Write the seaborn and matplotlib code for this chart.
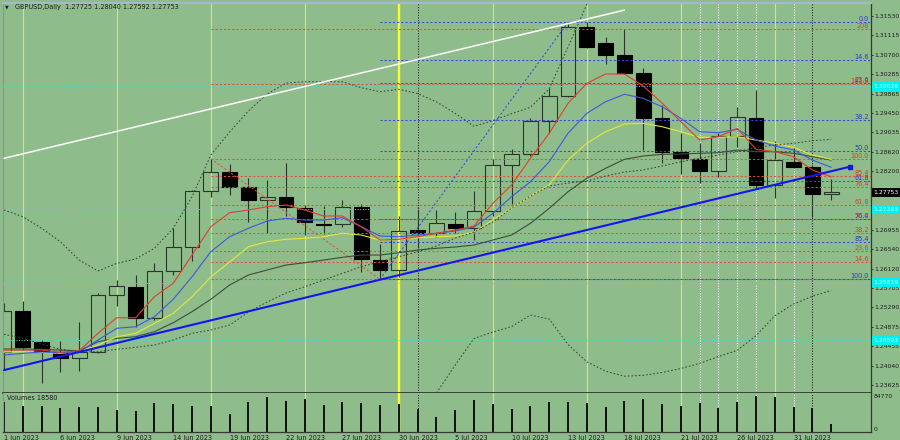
import numpy as np
import pandas as pd
import matplotlib
matplotlib.use('Agg')
import matplotlib.pyplot as plt
import matplotlib.transforms as mtransforms
from matplotlib.patches import Rectangle
import seaborn as sns

# trading days shown on the chart
dates = pd.bdate_range('2023-06-01', '2023-08-02')

opens = [1.24330, 1.25207, 1.24544, 1.24330, 1.24202, 1.24330, 1.25549, 1.25733, 1.25057, 1.26076,
         1.26589, 1.27780, 1.28187, 1.27866, 1.27594, 1.27646, 1.27423, 1.27085, 1.27074, 1.27432,
         1.26304, 1.26090, 1.26946, 1.26888, 1.27081, 1.26995, 1.27352, 1.28336, 1.28565, 1.29278,
         1.29819, 1.31295, 1.30952, 1.30689, 1.30298, 1.29342, 1.28621, 1.28465, 1.28215, 1.28957,
         1.29348, 1.27909, 1.28407, 1.28300, 1.27725]
highs = [1.25378, 1.25421, 1.24593, 1.24565, 1.24985, 1.25592, 1.25877, 1.25984, 1.26234, 1.26982,
         1.27802, 1.28458, 1.28358, 1.28052, 1.28009, 1.28386, 1.27481, 1.27466, 1.27588, 1.27502,
         1.26647, 1.27246, 1.27445, 1.27374, 1.27325, 1.27787, 1.28458, 1.28672, 1.29335, 1.29977,
         1.31346, 1.31402, 1.31068, 1.31239, 1.30405, 1.29620, 1.29015, 1.28813, 1.29015, 1.29571,
         1.29941, 1.28856, 1.28715, 1.28337, 1.28040]
lows = [1.23951, 1.24379, 1.23667, 1.23902, 1.23937, 1.24309, 1.25327, 1.24865, 1.25021, 1.25984,
        1.26289, 1.27658, 1.27688, 1.27124, 1.26888, 1.27246, 1.26839, 1.26854, 1.27017, 1.26054,
        1.25913, 1.25947, 1.26555, 1.26803, 1.26876, 1.26732, 1.27246, 1.27502, 1.28535, 1.29015,
        1.29797, 1.30839, 1.30490, 1.30283, 1.28657, 1.28386, 1.28138, 1.27958, 1.28086, 1.28728,
        1.27817, 1.27624, 1.28266, 1.27231, 1.27592]
closes = [1.25220, 1.24450, 1.24337, 1.24202, 1.24330, 1.25556, 1.25748, 1.25064, 1.26069, 1.26589,
          1.27787, 1.28193, 1.27872, 1.27594, 1.27652, 1.27432, 1.27117, 1.27064, 1.27432, 1.26319,
          1.26090, 1.26931, 1.26888, 1.27089, 1.26989, 1.27352, 1.28336, 1.28565, 1.29278, 1.29819,
          1.31295, 1.30867, 1.30689, 1.30298, 1.29342, 1.28625, 1.28493, 1.28215, 1.28963, 1.29357,
          1.27909, 1.28443, 1.28300, 1.27716, 1.27753]
volumes = [70900, 60880, 60880, 56250, 58570, 58570, 51630, 49320, 67810, 65500,
           60110, 60880, 42380, 69350, 82450, 73210, 77060, 63190, 69350, 67040,
           63190, 65500, 53940, 34680, 52400, 74750, 65500, 54710, 60110, 70120,
           70120, 68580, 57800, 73210, 77060, 65500, 60880, 67040, 57020, 69350,
           84770, 82450, 57800, 56250, 18580]

# indicator lines
ma_red = [1.24379, 1.24379, 1.24379, 1.24330, 1.24364, 1.24737, 1.25070, 1.25070, 1.25519, 1.25806,
          1.26411, 1.27017, 1.27316, 1.27374, 1.27445, 1.27481, 1.27374, 1.27246, 1.27246, 1.27017,
          1.26732, 1.26747, 1.26803, 1.26876, 1.26946, 1.27032, 1.27517, 1.27909, 1.28480, 1.29015,
          1.29656, 1.30084, 1.30283, 1.30283, 1.30026, 1.29663, 1.29263, 1.28871, 1.28942, 1.29122,
          1.28672, 1.28621, 1.28514, 1.28230, 1.28086]
ma_blue = [1.24272, 1.24309, 1.24337, 1.24322, 1.24337, 1.24593, 1.24844, 1.24878, 1.25092, 1.25464,
           1.25947, 1.26482, 1.26803, 1.26983, 1.27139, 1.27196, 1.27160, 1.27160, 1.27209, 1.27017,
           1.26818, 1.26803, 1.26839, 1.26876, 1.26925, 1.27010, 1.27303, 1.27658, 1.27979, 1.28407,
           1.29015, 1.29442, 1.29690, 1.29849, 1.29763, 1.29584, 1.29335, 1.29049, 1.29027, 1.29100,
           1.28871, 1.28743, 1.28657, 1.28443, 1.28287]
ma_yellow = [1.24337, 1.24343, 1.24326, 1.24309, 1.24343, 1.24486, 1.24664, 1.24737, 1.24950, 1.25164,
             1.25519, 1.25941, 1.26262, 1.26589, 1.26696, 1.26747, 1.26769, 1.26803, 1.26876, 1.26839,
             1.26732, 1.26747, 1.26781, 1.26803, 1.26818, 1.26903, 1.27160, 1.27417, 1.27673, 1.27909,
             1.28443, 1.28801, 1.29049, 1.29213, 1.29228, 1.29156, 1.29049, 1.28929, 1.28929, 1.28942,
             1.28871, 1.28801, 1.28715, 1.28550, 1.28458]
ma_slow = [1.24401, 1.24401, 1.24394, 1.24379, 1.24364, 1.24557, 1.24630, 1.24664, 1.24771, 1.24963,
           1.25199, 1.25464, 1.25770, 1.25984, 1.26091, 1.26197, 1.26247, 1.26304, 1.26362, 1.26411,
           1.26411, 1.26461, 1.26518, 1.26555, 1.26583, 1.26625, 1.26732, 1.26839, 1.27089, 1.27410,
           1.27765, 1.28052, 1.28266, 1.28458, 1.28529, 1.28565, 1.28572, 1.28587, 1.28600, 1.28657,
           1.28621, 1.28621, 1.28587, 1.28514, 1.28443]
bb_mid = [1.24715, 1.24630, 1.24508, 1.24394, 1.24337, 1.24343, 1.24394, 1.24437, 1.24486, 1.24593,
          1.24737, 1.24807, 1.24914, 1.25192, 1.25406, 1.25599, 1.25733, 1.25877, 1.26020, 1.26161,
          1.26268, 1.26375, 1.26482, 1.26604, 1.26775, 1.26903, 1.27117, 1.27417, 1.27673, 1.27887,
          1.27951, 1.27994, 1.28101, 1.28187, 1.28230, 1.28315, 1.28407, 1.28480, 1.28550, 1.28621,
          1.28715, 1.28764, 1.28801, 1.28856, 1.28886]
bb_upper = [1.27374, 1.27231, 1.26983, 1.26696, 1.26304, 1.26069, 1.26234, 1.26326, 1.26555, 1.26983,
            1.27658, 1.28550, 1.29042, 1.29492, 1.29855, 1.30090, 1.30118, 1.30118, 1.30118, 1.29990,
            1.29904, 1.29956, 1.29866, 1.29688, 1.29440, 1.29164, 1.29286, 1.29434, 1.29571, 1.29966,
            1.30861, 1.31772, 1.32272, 1.32550] + [np.nan] * 11
bb_lower = [np.nan] * 22 + [1.23096, 1.23460, 1.24058, 1.24625, 1.24764, 1.24882, 1.25128, 1.25042,
                            1.24497, 1.24127, 1.23926, 1.23819, 1.23838, 1.23898, 1.23984, 1.24093,
                            1.24240, 1.24371, 1.24687, 1.25111, 1.25363, 1.25530, 1.25652]

# fibonacci tools
fib_blue_high, fib_blue_low = 1.31389, 1.25892
fib_blue_ratios = [0.0, 0.146, 0.236, 0.382, 0.5, 0.618, 0.764, 0.854, 1.0]
fib_blue_labels = ['0.0', '14.6', '23.6', '38.2', '50.0', '61.8', '76.4', '85.4', '100.0']
fib_red_low, fib_red_high = 1.25892, 1.28471
fib_red_ratios = [0.0, 0.146, 0.236, 0.382, 0.5, 0.618, 0.764, 0.854, 1.0, 1.618, 2.08]
fib_red_labels = ['0.0', '14.6', '23.6', '38.2', '50.0', '61.8', '76.4', '85.4', '100.0', '161.8', '208']

levels_cyan = [1.30026, 1.27395, 1.25819, 1.24593]
price_ticks = [1.31530, 1.31115, 1.30700, 1.30285, 1.29865, 1.29450, 1.29035, 1.28620, 1.28200,
               1.27785, 1.27370, 1.26955, 1.26540, 1.26120, 1.25705, 1.25290, 1.24875, 1.24455,
               1.24040, 1.23625]

white_trend_x, white_trend_y = [0, 33], [1.2848, 1.3165]
blue_trend_x, blue_trend_y = [0, 45], [1.2395, 1.2830]

friday_marks = ['2023-06-02', '2023-06-09', '2023-06-16', '2023-06-23', '2023-07-07',
                '2023-07-14', '2023-07-21', '2023-07-28']
quarter_mark = '2023-06-30'
month_marks = ['2023-07-03', '2023-08-01']
white_marks = ['2023-07-24', '2023-07-25', '2023-07-26', '2023-07-27', '2023-07-31']

# ---------------------------------------------------------------
sns.set_style('white')
plt.rcParams['font.family'] = ['DejaVu Sans']
BG = '#8fbc8b'
FS = 4.7
FS_R = 4.4
TXT = '#1e1e1e'

W, H = 900, 440
fig = plt.figure(figsize=(9, 4.4), dpi=100, facecolor=BG)


def px_axes(l, t, r, b):
    return fig.add_axes([l / W, 1 - b / H, (r - l) / W, (b - t) / H])


ax = px_axes(3, 3, 870.7, 393)
axv = px_axes(3, 393, 870.7, 432.3)
for a in (ax, axv):
    a.set_facecolor(BG)
    a.set_xlim(-0.053, 46.1)

ax.set_ylim(1.23460, 1.31802)
axv.set_ylim(0, 91024)

x = np.arange(len(dates))
pos = {d.strftime('%Y-%m-%d'): i for i, d in enumerate(dates)}

# vertical separators
for a in (ax, axv):
    for d in friday_marks:
        a.axvline(pos[d], color='#e4e45a', lw=0.8, zorder=1)
    a.axvline(pos[quarter_mark], color='#ffff20', lw=1.7, zorder=1)
    for d in month_marks:
        a.axvline(pos[d], color='#202020', lw=0.75, ls=(0, (1, 1.5)), zorder=1)
    for d in white_marks:
        a.axvline(pos[d], color='white', lw=0.75, ls=(0, (1, 1.5)), zorder=1)

# candles
o, h, l, c = map(np.array, (opens, highs, lows, closes))
top = np.maximum(o, c)
bot = np.minimum(o, c)
up = c >= o
ax.vlines(x, top, h, color='#2a362a', lw=0.8, zorder=2)
ax.vlines(x, l, bot, color='#2a362a', lw=0.8, zorder=2)
ax.bar(x[up], (top - bot)[up], bottom=bot[up], width=0.78, facecolor='none',
       edgecolor='#2a362a', linewidth=0.8, zorder=2)
ax.bar(x[~up], (top - bot)[~up], bottom=bot[~up], width=0.78, facecolor='black',
       edgecolor='black', linewidth=0.8, zorder=2)

# horizontal cyan levels
for lv in levels_cyan:
    ax.axhline(lv, color='#40e0d0', lw=0.75, ls=(0, (1, 1.5)), zorder=3)

# fibonacci
blend = mtransforms.blended_transform_factory(ax.transAxes, ax.transData)
start_blue = pos['2023-06-29']
start_red = pos['2023-06-16']
for r, lab in zip(fib_blue_ratios, fib_blue_labels):
    lv = fib_blue_high - r * (fib_blue_high - fib_blue_low)
    ax.hlines(lv, start_blue, 46.1, color='#3a46e0', lw=0.75, ls=(0, (2, 2)), zorder=3)
    ax.text(0.998, lv, lab, transform=blend, ha='right', va='bottom', fontsize=FS,
            color='#2a36d8', zorder=6)
for r, lab in zip(fib_red_ratios, fib_red_labels):
    lv = fib_red_low + r * (fib_red_high - fib_red_low)
    ax.hlines(lv, start_red, 46.1, color='#e0503a', lw=0.75, ls=(0, (2, 2)), zorder=3)
    if lab != '0.0':
        ax.text(0.998, lv, lab, transform=blend, ha='right', va='bottom', fontsize=FS,
                color='#e03a2a', zorder=6)
ax.plot([start_red, start_blue], [fib_red_high, fib_red_low], color='#e0503a', lw=0.75,
        ls=(0, (2, 2)), zorder=3)
ax.plot([start_blue, pos['2023-07-13']], [fib_blue_low, fib_blue_high], color='#3a46e0', lw=0.75,
        ls=(0, (2, 2)), zorder=3)

# moving averages and bands
ind = pd.DataFrame({'i': x, 'red': ma_red, 'blue': ma_blue, 'yellow': ma_yellow,
                    'slow': ma_slow, 'mid': bb_mid, 'upper': bb_upper, 'lower': bb_lower})
for col, colr in [('slow', '#3a4e3a'), ('yellow', '#e6e63c'), ('blue', '#4058e0'), ('red', '#e0402a')]:
    sns.lineplot(data=ind, x='i', y=col, color=colr, linewidth=0.8, ax=ax,
                 estimator=None, legend=False, zorder=4)
for col in ['mid', 'upper', 'lower']:
    sns.lineplot(data=ind.dropna(subset=[col]), x='i', y=col, color='#34443a', linewidth=0.75,
                 ls=(0, (1.5, 2)), ax=ax, estimator=None, legend=False, zorder=4)

# trendlines
ax.plot(white_trend_x, white_trend_y, color='white', lw=1.1, zorder=5)
ax.plot(blue_trend_x, blue_trend_y, color='#1414f0', lw=1.5, zorder=5)
ax.plot(blue_trend_x[-1:], blue_trend_y[-1:], 's', color='#1414f0', ms=2.2, zorder=5)

# right price scale
ax.yaxis.tick_right()
ax.set_yticks(price_ticks)
ax.set_yticklabels([f'{p:.5f}' for p in price_ticks])
ax.tick_params(axis='y', labelsize=FS_R, colors=TXT, length=1.6, width=0.6, pad=1.0, right=True)
ax.set_xticks([])
ax.set_xlabel('')
ax.set_ylabel('')


def scale_box(a, price, face, txt, tcol):
    tr = mtransforms.blended_transform_factory(a.transAxes, a.transData)
    hgt = 9 * (1.31802 - 1.23460) / 390
    a.add_patch(Rectangle((1.0015, price - hgt / 2), 0.034, hgt, transform=tr,
                          facecolor=face, edgecolor='none', clip_on=False, zorder=7))
    a.text(1.0035, price, txt, transform=tr, ha='left', va='center', fontsize=FS_R,
           color=tcol, zorder=8, clip_on=False)


for lv in levels_cyan:
    scale_box(ax, lv, '#00f0f0', f'{lv:.5f}', '#e8ffff')
scale_box(ax, closes[-1], 'black', f'{closes[-1]:.5f}', 'white')

# volumes
axv.vlines(x, 0, volumes, color='#111111', lw=1.4, zorder=2)
axv.set_yticks([])
axv.set_ylabel('')
tick_idx = x[::3]
axv.set_xticks(tick_idx)
axv.set_xticklabels([f"{dates[i].day} {dates[i].strftime('%b %Y')}" for i in tick_idx],
                    ha='left', fontsize=FS, color=TXT)
axv.tick_params(axis='x', length=1.5, width=0.6, pad=0.3, colors=TXT)

fig.text(874 / W, 1 - 396.7 / H, '84770', fontsize=FS_R, color=TXT, va='center', ha='left')
fig.text(874 / W, 1 - 429.3 / H, '0', fontsize=FS_R, color=TXT, va='center', ha='left')
fig.text(7 / W, 1 - 397.5 / H, f'Volumes {volumes[-1]}', fontsize=FS, color=TXT, va='center')
fig.text(5 / W, 1 - 6.5 / H, '\u25bc', fontsize=3.5, color=TXT, va='center')
fig.text(15 / W, 1 - 6.5 / H,
         f'GBPUSD,Daily  {opens[-1]:.5f} {highs[-1]:.5f} {lows[-1]:.5f} {closes[-1]:.5f}',
         fontsize=FS, color=TXT, va='center')

# frame
for a in (ax, axv):
    a.spines['left'].set_color('#8496ac')
    a.spines['right'].set_color('#363636')
    a.spines['bottom'].set_color('#363636')
    for s in a.spines.values():
        s.set_linewidth(0.9)
ax.spines['top'].set_color('#a8b8cc')
ax.spines['top'].set_linewidth(1.5)
ax.spines['bottom'].set_linewidth(1.3)
axv.spines['top'].set_visible(False)

fig.savefig('out.png', dpi=100, facecolor=BG)
